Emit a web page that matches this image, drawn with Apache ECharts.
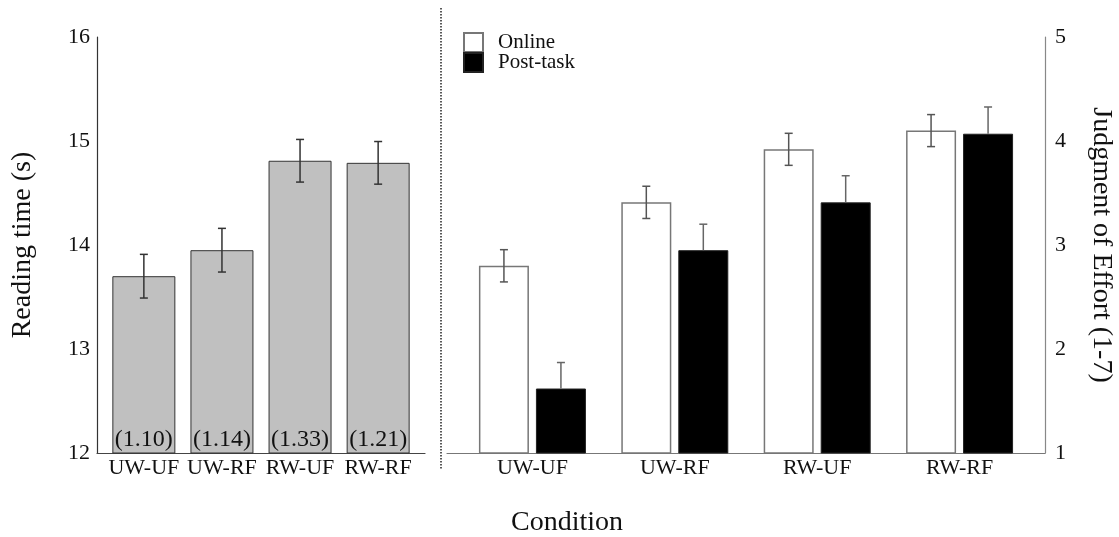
<!DOCTYPE html>
<html>
<head>
<meta charset="utf-8">
<script src="https://cdn.jsdelivr.net/npm/echarts@6/dist/echarts.min.js"></script>
<style>html,body{margin:0;padding:0;background:#fff;}#c{width:1119px;height:537px;}</style>
</head>
<body>
<div id="c"></div>
<script>
const categories = ['UW-UF', 'UW-RF', 'RW-UF', 'RW-RF'];
const readingTime = [13.70, 13.95, 14.81, 14.79];
const readingTimeSE = [0.21, 0.21, 0.205, 0.205];
const readingTimeSD = [1.10, 1.14, 1.33, 1.21];
const onlineEffort = [2.80, 3.41, 3.92, 4.10];
const onlineSE = [0.155, 0.155, 0.154, 0.154];
const postTaskEffort = [1.62, 2.95, 3.41, 4.07];
const postTaskSE = [0.25, 0.25, 0.256, 0.257];
const leftTicks = [12, 13, 14, 15, 16];
const rightTicks = [1, 2, 3, 4, 5];

const FONT = 'Liberation Serif';
const idx = categories.map((c, i) => i);

function errRender(color, offsetPx, capHalf, upperOnly) {
  return function (params, api) {
    const x = api.value(0), m = api.value(1), se = api.value(2);
    const top = api.coord([x, m + se]);
    const bot = api.coord([x, upperOnly ? m : m - se]);
    const cx = top[0] + offsetPx;
    const st = { stroke: color, lineWidth: 1.5 };
    const children = [
      { type: 'line', shape: { x1: cx, y1: top[1], x2: cx, y2: bot[1] }, style: st },
      { type: 'line', shape: { x1: cx - capHalf, y1: top[1], x2: cx + capHalf, y2: top[1] }, style: st }
    ];
    if (!upperOnly) children.push({ type: 'line', shape: { x1: cx - capHalf, y1: bot[1], x2: cx + capHalf, y2: bot[1] }, style: st });
    return { type: 'group', children };
  };
}

const chart = echarts.init(document.getElementById('c'));
chart.setOption({
  backgroundColor: '#fff',
  animation: false,
  textStyle: { fontFamily: FONT },
  legend: {
    data: ['Online', 'Post-task'],
    orient: 'vertical',
    left: 463, top: 32, padding: 0,
    itemWidth: 19, itemHeight: 19, itemGap: -1,
    icon: 'rect',
    textStyle: { fontFamily: FONT, fontSize: 21, color: '#111', lineHeight: 19, padding: [0, 0, 0, 10] }
  },
  grid: [
    { left: 97, top: 37, width: 328, height: 416, outerBoundsMode: 'none', containLabel: false },
    { left: 447, top: 37, width: 598, height: 416, outerBoundsMode: 'none', containLabel: false }
  ],
  xAxis: [
    {
      gridIndex: 0, type: 'value', min: -0.6, max: 3.6,
      axisLine: { show: true, onZero: false, lineStyle: { color: '#444', width: 1.2 } },
      axisTick: { show: false }, splitLine: { show: false },
      axisLabel: { customValues: idx, formatter: v => categories[Math.round(v)], fontFamily: FONT, fontSize: 22, color: '#111', margin: 4 }
    },
    {
      gridIndex: 1, type: 'value', min: -0.6, max: 3.6,
      axisLine: { show: true, onZero: false, lineStyle: { color: '#777', width: 1.2 } },
      axisTick: { show: false }, splitLine: { show: false },
      axisLabel: { customValues: idx, formatter: v => categories[Math.round(v)], fontFamily: FONT, fontSize: 22, color: '#111', margin: 4 }
    }
  ],
  yAxis: [
    {
      gridIndex: 0, type: 'value', min: 12, max: 16, interval: 1,
      name: 'Reading time (s)', nameLocation: 'middle', nameGap: 60,
      nameTextStyle: { fontFamily: FONT, fontSize: 28, color: '#111' },
      axisLine: { show: true, onZero: false, lineStyle: { color: '#333', width: 1.2 } },
      axisTick: { show: false }, splitLine: { show: false },
      axisLabel: { fontFamily: FONT, fontSize: 22, color: '#111', margin: 7 }
    },
    {
      gridIndex: 1, type: 'value', min: 1, max: 5, interval: 1, position: 'right',
      name: 'Judgment of Effort (1-7)', nameLocation: 'middle', nameGap: 42, nameRotate: -90,
      nameTextStyle: { fontFamily: FONT, fontSize: 28, color: '#111' },
      axisLine: { show: true, onZero: false, lineStyle: { color: '#888', width: 1.2 } },
      axisTick: { show: false }, splitLine: { show: false },
      axisLabel: { fontFamily: FONT, fontSize: 22, color: '#111', margin: 10 }
    }
  ],
  series: [
    {
      name: 'Reading time', type: 'bar', xAxisIndex: 0, yAxisIndex: 0, barWidth: 63,
      data: idx.map(i => [i, readingTime[i]]),
      itemStyle: { color: '#c0c0c0', borderColor: '#333', borderWidth: 1 }
    },
    {
      name: 'Online', type: 'bar', xAxisIndex: 1, yAxisIndex: 1, barWidth: 50, barGap: '14%',
      data: idx.map(i => [i, onlineEffort[i]]),
      itemStyle: { color: '#fff', borderColor: '#777', borderWidth: 1.5 }
    },
    {
      name: 'Post-task', type: 'bar', xAxisIndex: 1, yAxisIndex: 1, barWidth: 50, barGap: '14%',
      data: idx.map(i => [i, postTaskEffort[i]]),
      itemStyle: { color: '#000', borderColor: '#222', borderWidth: 1 }
    },
    {
      type: 'custom', xAxisIndex: 0, yAxisIndex: 0, silent: true, z: 5,
      data: idx.map(i => [i, readingTime[i], readingTimeSE[i]]),
      renderItem: errRender('#333', 0, 4, false)
    },
    {
      type: 'custom', xAxisIndex: 0, yAxisIndex: 0, silent: true, z: 5,
      data: idx.map(i => [i, leftTicks[0], readingTimeSD[i]]),
      renderItem: function (params, api) {
        const p = api.coord([api.value(0), api.value(1)]);
        return { type: 'text', x: p[0], y: p[1] - 1, style: { text: '(' + api.value(2).toFixed(2) + ')', fontFamily: FONT, fontSize: 24, fill: '#111', align: 'center', verticalAlign: 'bottom' } };
      }
    },
    {
      type: 'custom', xAxisIndex: 1, yAxisIndex: 1, silent: true, z: 5,
      data: idx.map(i => [i, onlineEffort[i], onlineSE[i]]),
      renderItem: errRender('#555', -28.5, 4, false)
    },
    {
      type: 'custom', xAxisIndex: 1, yAxisIndex: 1, silent: true, z: 5,
      data: idx.map(i => [i, postTaskEffort[i], postTaskSE[i]]),
      renderItem: errRender('#666', 28.5, 4, true)
    }
  ],
  graphic: [
    { type: 'line', shape: { x1: 441, y1: 8, x2: 441, y2: 470 }, style: { stroke: '#222', lineWidth: 1.5, lineDash: [1.5, 1.5] }, silent: true },
    { type: 'text', x: 567, y: 523, style: { text: 'Condition', fontFamily: FONT, fontSize: 28, fill: '#111', align: 'center', verticalAlign: 'middle' }, silent: true }
  ]
});
</script>
</body>
</html>
